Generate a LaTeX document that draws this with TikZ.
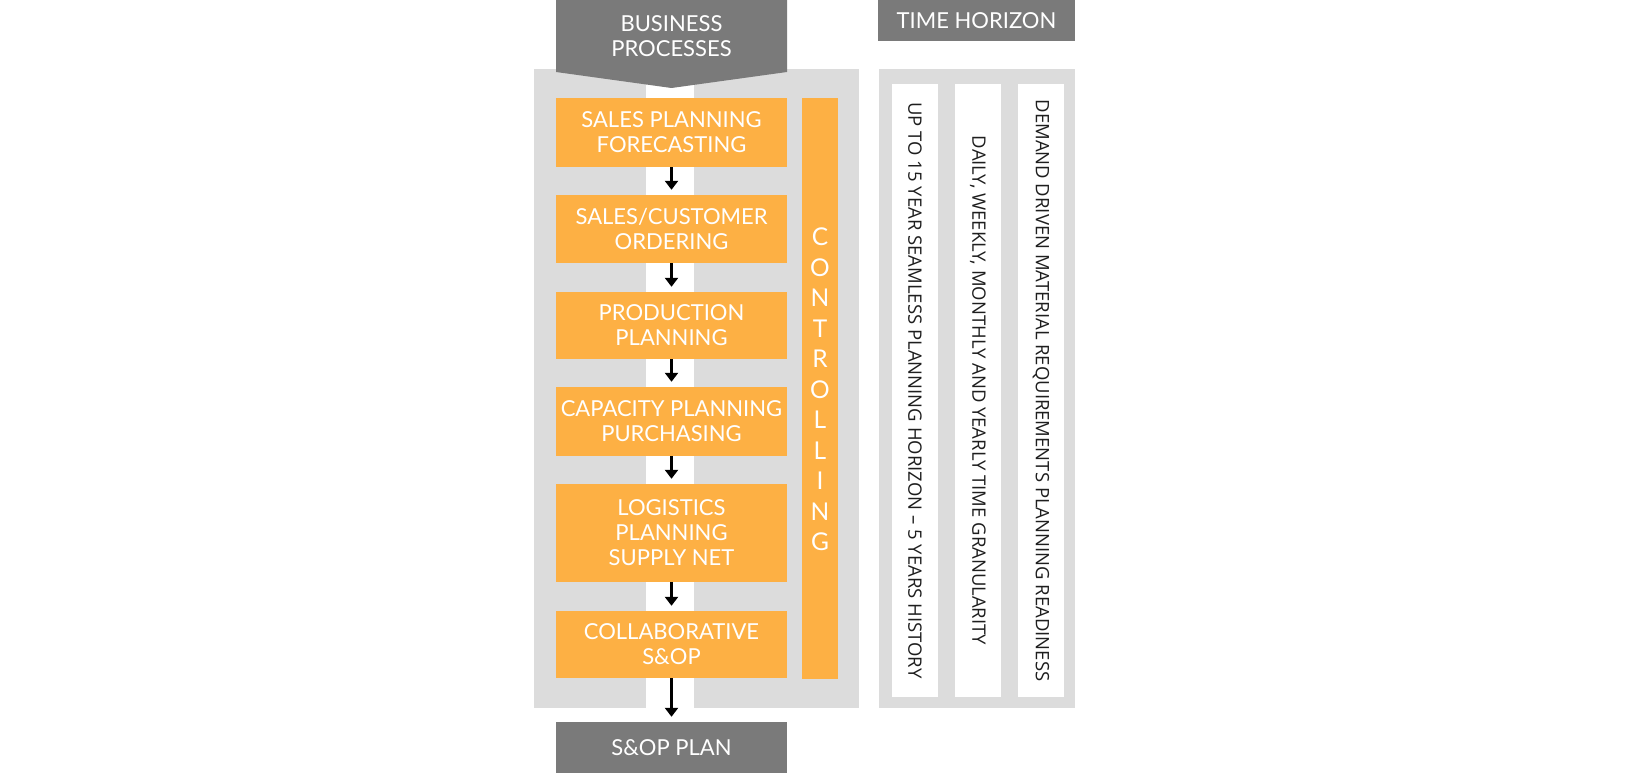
\documentclass[tikz,border=0pt]{standalone}
\usepackage{fontspec}
\setmainfont{Lato}
\newfontfamily\stripfont{Open Sans}
\usetikzlibrary{arrows.meta}

\definecolor{hdrgray}{RGB}{122,122,122}
\definecolor{panelgray}{RGB}{220,220,220}
\definecolor{procorange}{RGB}{253,176,68}
\definecolor{striptext}{RGB}{30,30,30}

\def\s{1pt}
\def\punkt#1#2{({#1*\s},{-#2*\s})}

\tikzset{
	proc/.style={fill=procorange,text=white,minimum width=231pt,inner sep=0pt,align=center,font=\fontsize{22}{25}\selectfont},
	hdr/.style={fill=hdrgray,text=white,inner sep=0pt,align=center,font=\fontsize{22}{25}\selectfont},
	strip/.style={fill=white,rotate=-90,minimum width=613pt,minimum height=46pt,inner sep=0pt,text=striptext,font=\stripfont\fontsize{18.5}{20}\selectfont},
	flow/.style={-{Triangle[length=9pt,width=13pt]},line width=3.5pt,shorten >=5pt}
}

\begin{document}
\begin{tikzpicture}
\useasboundingbox[fill=white] \punkt{0}{0} rectangle \punkt{1650}{773};
% panels
\fill[panelgray] \punkt{534}{69} rectangle \punkt{859}{708};
\fill[white] \punkt{646}{69} rectangle \punkt{694}{708};
\fill[panelgray] \punkt{879}{69} rectangle \punkt{1075}{708};
% header arrow
\fill[hdrgray] \punkt{556}{0} -- \punkt{787}{0} -- \punkt{787}{72} -- \punkt{671.5}{88} -- \punkt{556}{72} -- cycle;
\node[hdr] (bp) at \punkt{671.5}{36} {BUSINESS\\PROCESSES};
\node[hdr,minimum width=197pt,minimum height=41pt] (th) at \punkt{976.5}{20.5} {TIME HORIZON};
% process chain
\node[proc,minimum height=69pt] (p1) at \punkt{671.5}{132.5} {SALES PLANNING\\FORECASTING};
\node[proc,minimum height=68pt] (p2) at \punkt{671.5}{229} {SALES/CUSTOMER\\ORDERING};
\node[proc,minimum height=67pt] (p3) at \punkt{671.5}{325.5} {PRODUCTION\\PLANNING};
\node[proc,minimum height=69pt] (p4) at \punkt{671.5}{421.5} {CAPACITY PLANNING\\PURCHASING};
\node[proc,minimum height=98pt] (p5) at \punkt{671.5}{533} {LOGISTICS\\PLANNING\\SUPPLY NET};
\node[proc,minimum height=67pt] (p6) at \punkt{671.5}{644.5} {COLLABORATIVE\\S\&OP};
\node[hdr,minimum width=231pt,minimum height=51pt] (plan) at \punkt{671.5}{747.5} {S\&OP PLAN};
\foreach \a/\b in {p1/p2,p2/p3,p3/p4,p4/p5,p5/p6,p6/plan}{
	\draw[flow] (\a.south) -- (\b.north);
}
% controlling
\node[fill=procorange,minimum width=36pt,minimum height=581pt,inner sep=0pt] (ctrl) at \punkt{820}{388.5} {};
\node[text=white,align=center,inner sep=0pt,font=\fontsize{24.5}{30.5}\selectfont] (ctrltxt) at \punkt{820}{389.5} {C\\O\\N\\T\\R\\O\\L\\L\\I\\N\\G};
% time horizon strips
\node[strip] (h1) at \punkt{915}{390.5} {UP TO 15 YEAR SEAMLESS PLANNING HORIZON – 5 YEARS HISTORY};
\node[strip] (h2) at \punkt{978}{390.5} {DAILY, WEEKLY, MONTHLY AND YEARLY TIME GRANULARITY};
\node[strip] (h3) at \punkt{1041}{390.5} {DEMAND DRIVEN MATERIAL REQUIREMENTS PLANNING READINESS};
\end{tikzpicture}
\end{document}
